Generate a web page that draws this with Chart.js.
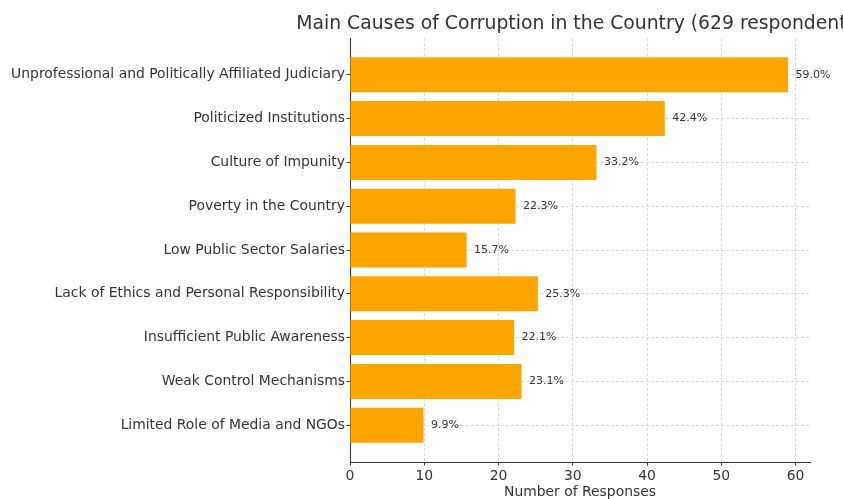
<!DOCTYPE html>
<html>
<head>
<meta charset="utf-8">
<script src="https://cdn.jsdelivr.net/npm/chart.js@4.4.1/dist/chart.umd.min.js"></script>
<style>
  html, body { margin: 0; padding: 0; background: #ffffff; }
  #wrap { width: 843px; height: 499px; position: relative; }
</style>
</head>
<body>
<div id="wrap"><canvas id="c" width="843" height="499"></canvas></div>
<script>
const categories = [
  "Unprofessional and Politically Affiliated Judiciary",
  "Politicized Institutions",
  "Culture of Impunity",
  "Poverty in the Country",
  "Low Public Sector Salaries",
  "Lack of Ethics and Personal Responsibility",
  "Insufficient Public Awareness",
  "Weak Control Mechanisms",
  "Limited Role of Media and NGOs"
];
const values = [59.0, 42.4, 33.2, 22.3, 15.7, 25.3, 22.1, 23.1, 9.9];
const xTicks = [0, 10, 20, 30, 40, 50, 60];
const titleText = "Main Causes of Corruption in the Country (629 respondents)";
const xTitle = "Number of Responses";

const FONT = "'DejaVu Sans', sans-serif";
const TEXT = '#333333';

const overlay = {
  id: 'overlay',
  afterDatasetsDraw(chart) {
    const ctx = chart.ctx;
    const xs = chart.scales.x, ys = chart.scales.y;
    ctx.save();
    ctx.fillStyle = TEXT;
    ctx.font = "11px " + FONT;
    ctx.textAlign = 'left';
    ctx.textBaseline = 'middle';
    values.forEach((v, i) => {
      ctx.fillText(v.toFixed(1) + '%', xs.getPixelForValue(v + 1), ys.getPixelForValue(i));
    });
    // title
    ctx.font = "18.8px " + FONT;
    ctx.textAlign = 'center';
    ctx.textBaseline = 'alphabetic';
    const ca = chart.chartArea;
    ctx.fillText(titleText, (ca.left + ca.right) / 2, 29);
    ctx.restore();
  }
};

new Chart(document.getElementById('c'), {
  type: 'bar',
  data: {
    datasets: [{
      data: values.map((v, i) => ({ x: v, y: i })),
      backgroundColor: '#FFA500',
      borderWidth: 0,
      categoryPercentage: 1.0,
      barPercentage: 0.8
    }]
  },
  options: {
    indexAxis: 'y',
    responsive: false,
    animation: false,
    events: [],
    layout: { padding: { top: 38, right: 33, left: 0, bottom: 0 } },
    plugins: { legend: { display: false }, title: { display: false }, tooltip: { enabled: false } },
    scales: {
      x: {
        type: 'linear',
        min: 0,
        max: 61.95,
        afterBuildTicks: (s) => { s.ticks = xTicks.map(v => ({ value: v })); },
        afterFit: (s) => { s.height = 37; },
        ticks: { font: { family: FONT, size: 13.9 }, color: TEXT, padding: 3, maxRotation: 0 },
        grid: { color: '#d0d0d0', lineWidth: 0.8, tickLength: 3.5, tickColor: '#333333', tickWidth: 1, tickBorderDash: [] },
        border: { display: true, color: '#333333', width: 1, dash: [3, 2] },
        title: { display: true, text: xTitle, font: { family: FONT, size: 13.9 }, color: TEXT, padding: { top: 0, bottom: -2 } }
      },
      y: {
        type: 'linear',
        offset: false,
        min: -0.84,
        max: 8.84,
        reverse: true,
        afterBuildTicks: (s) => { s.ticks = categories.map((c, i) => ({ value: i })); },
        afterFit: (s) => { s.width = 350; },
        ticks: {
          font: { family: FONT, size: 13.9 }, color: TEXT, padding: 1.5,
          callback: (v) => categories[v]
        },
        grid: { offset: false, color: '#d0d0d0', lineWidth: 0.8, tickLength: 3.5, tickColor: '#333333', tickWidth: 1, tickBorderDash: [] },
        border: { display: true, color: '#333333', width: 1, dash: [3, 2] }
      }
    }
  },
  plugins: [overlay]
});
</script>
</body>
</html>
